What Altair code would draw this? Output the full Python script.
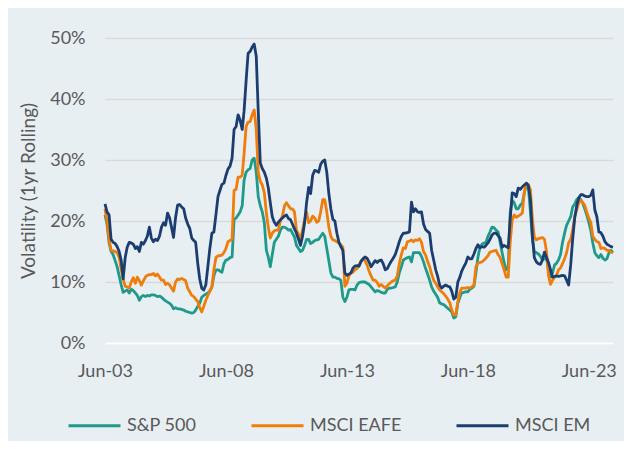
import altair as alt
import pandas as pd

# Monthly observations, Jun-2003 .. Jun-2024
months = pd.date_range("2003-06-01", periods=253, freq="MS").strftime("%Y-%m-%d").tolist()
series_names = ["S&P 500", "MSCI EAFE", "MSCI EM"]
series_colors = ["#1f9a8a", "#f07c0a", "#1b3d6f"]
tick_years = [2003, 2008, 2013, 2018, 2023]
y_ticks = [0, 10, 20, 30, 40, 50]

sp500 = [
    21, 19.5, 16.5, 15, 14.5, 13.5, 12.5, 11, 9.5, 8.3,
    8.5, 8.7, 8.2, 8.8, 8.6, 8.2, 7.8, 7, 7.6, 7.8,
    7.6, 7.8, 7.7, 7.9, 7.9, 7.8, 7.6, 7.7, 7.5, 7.2,
    6.9, 6.7, 6.5, 6.2, 5.6, 5.8, 5.6, 5.6, 5.5, 5.4,
    5.2, 5.1, 5, 4.9, 5, 5.4, 6, 6.5, 7.5, 7.8,
    8, 8.2, 8.5, 9.2, 11, 12, 12, 11.8, 11.6, 13,
    13.6, 13.7, 14, 14.1, 20.2, 20.5, 21, 21.5, 22.5, 26.7,
    28, 28.4, 28.6, 30, 30.3, 28, 24, 22.5, 21.5, 19.7,
    15.2, 14.1, 12.5, 14.5, 16.5, 17, 17.5, 18.5, 19, 19,
    18.8, 18.5, 18.6, 18, 17.4, 16, 15.5, 15, 15.2, 16,
    17, 17, 16.3, 16.5, 16.8, 16.9, 17, 17.5, 18, 17.5,
    15.5, 13.5, 11.5, 10.8, 10.8, 10.6, 10.5, 10.3, 7.5, 6.8,
    7.5, 8.7, 8.8, 8.8, 8.7, 9.5, 9.9, 10, 10, 10,
    9.8, 9.6, 9.2, 8.8, 8.4, 8.6, 8.5, 8.3, 8.2, 8.2,
    8.8, 9, 9, 9.1, 9.2, 10, 11.5, 12.5, 13.6, 13.8,
    14, 14.1, 13.3, 14.8, 14.8, 14.8, 14.8, 14.2, 13.3, 12.2,
    11.3, 10.3, 9.2, 8.5, 8, 7.5, 6.6, 6.4, 6.3, 6,
    5.7, 5.4, 5.1, 4.1, 4.3, 6.5, 7.5, 8.2, 8.3, 8.4,
    8.4, 8.8, 9, 9.3, 11.5, 14.1, 15.7, 16.2, 16.4, 16.5,
    17.5, 18.2, 19, 18.9, 18.5, 18.2, 16.5, 14.8, 13.2, 12,
    12.3, 21.3, 23.4, 23, 22, 22, 22.6, 22.9, 24.6, 25.9,
    25.5, 21.5, 17, 15, 14.8, 14.6, 14.2, 13.6, 13.8, 13.8,
    12, 10.8, 11.5, 12.8, 13.1, 13.6, 14.5, 16.5, 18, 19.3,
    20, 20.7, 22.3, 22.8, 23.5, 23.8, 23.5, 23, 22, 21,
    19.8, 18.5, 16.4, 14.8, 14.3, 14, 14.5, 13.9, 13.6, 13.8,
    14.8, 15.2, 14.8,
]

eafe = [
    22, 20, 17, 15.2, 15.1, 15, 14.8, 14, 12, 10.5,
    9.3, 9.2, 9, 10, 10.7, 9.8, 10.8, 10.2, 9.5, 10.2,
    10.8, 11.1, 11.2, 11.2, 11.4, 11, 11.3, 10.8, 10.3, 10.3,
    9.6, 9.8, 9.5, 9, 8.5, 10, 10.5, 10.4, 10.6, 10.4,
    10.2, 9, 8.4, 7.8, 7.6, 7.2, 6.8, 5.8, 5.1, 6,
    7, 7.8, 8.5, 9.2, 12, 14, 14.3, 14.3, 14.4, 14.8,
    15.5, 16.6, 16.8, 17, 25, 25.2, 27.2, 27.2, 27.5, 31,
    35.5, 36.2, 36.3, 37.4, 38.2, 35, 28, 26.5, 25.9, 24.6,
    21.3, 19, 17.2, 18, 18.4, 18.5, 18.5, 20, 20.8, 22.5,
    23, 22.5, 22, 22, 21.5, 18.5, 17.8, 16.9, 18.5, 20.2,
    21.5, 19.7, 20, 20.8, 20.5, 19.8, 20, 21.5, 23.5, 23.5,
    21.5, 19, 17.5, 16.9, 16.8, 16.6, 16.4, 16.1, 15.7, 9.3,
    9.8, 11, 11.5, 11.6, 12, 12.2, 12.8, 13.4, 13.9, 13.5,
    12.8, 11.8, 11, 10.3, 10.3, 9.9, 9.3, 9.6, 9.3, 9,
    9.4, 9.7, 10, 10.2, 10.3, 11, 13, 14.5, 15.6, 15.5,
    16.6, 16.7, 16.9, 16.6, 16.9, 16.8, 17.1, 16.5, 15, 14.4,
    13.4, 12.5, 11.3, 10.3, 9.8, 9.2, 8.7, 8.4, 8.1, 7.7,
    7.2, 6.6, 5.4, 4.6, 4.6, 6.8, 8.3, 9, 9, 9,
    9.1, 9, 9.2, 9.5, 12.5, 13.1, 13.2, 13.3, 13.6, 13.9,
    14.3, 14.9, 15, 15.1, 15.2, 14.5, 14, 13, 12, 10.8,
    10.8, 16.4, 20.2, 21, 20.6, 20.8, 21, 21.3, 24.8, 26.2,
    26, 25.1, 20.2, 17.4, 16.9, 17.1, 17.2, 17.3, 17, 15,
    11, 9.6, 10.3, 10.8, 11.1, 12, 12.3, 13, 13.8, 14.8,
    16.4, 17, 18.5, 20.8, 21.8, 23, 23.4, 23, 22.6, 21.5,
    20.5, 19.8, 17.5, 17, 16.6, 16.5, 15.5, 15.6, 15.5, 15.2,
    15.2, 14.9, 14.8,
]

em = [
    22.8, 21.5, 21, 17, 16.5, 16.3, 15.8, 15, 13.5, 10.5,
    14, 15.7, 16.5, 16.4, 16.2, 15.5, 15.8, 15, 16.5, 16.2,
    16.8, 17.5, 19, 17.2, 16.6, 17, 16.8, 17.5, 19, 19.7,
    19.3, 21.3, 20.5, 19, 17.3, 20.5, 22.6, 22.7, 22.3, 22,
    20.5, 19.5, 18.8, 17.2, 16.8, 16.5, 13.1, 10.5, 9, 8.7,
    9.5, 12.5, 15.5, 18, 18.2, 21, 24, 25, 26, 26.2,
    27.5, 28.5, 29, 30.3, 35, 35.5, 37.4, 36.5, 35, 38,
    43, 47.5, 47.8, 48.5, 49, 47, 38, 29.5, 28.6, 28,
    27, 25.5, 23, 20.7, 19.8, 19.3, 19.8, 20.2, 20.5, 20.8,
    21, 20.4, 20.2, 19.5, 18.7, 18, 17, 16, 17.5, 19.7,
    23, 25.5, 24.5, 27.5, 28.3, 28.2, 28, 29.3, 29.8, 30,
    28, 24.5, 22, 20.3, 20, 18, 16.5, 15.8, 15.2, 11.5,
    11.1, 11.3, 11.5, 12.3, 12.6, 12.7, 12.6, 13.4, 13.8, 14.1,
    13.9, 13.3, 12.5, 13, 13.5, 13.2, 13.5, 13.6, 13, 12,
    12.2, 12.8, 13.4, 13.9, 14.5, 15.5, 16.6, 17.5, 18, 18,
    18.1, 18.2, 23.1, 21.5, 22, 21.5, 21.4, 21.5, 19.5, 18.6,
    18.3, 18, 15.2, 13.6, 12, 11, 9.5, 9, 9.3, 9.5,
    9.3, 9.2, 8.5, 7.2, 7.5, 10, 10.8, 11.8, 12.5, 13.1,
    14.1, 13.8, 13.8, 14.6, 15.5, 16.1, 15.6, 15.8, 15.7, 16,
    16.4, 17, 17.7, 18, 18, 17.6, 17.2, 15.7, 16, 15.8,
    15.6, 20.2, 24.6, 24.5, 24, 25.4, 25.2, 25.6, 25.9, 26.2,
    25.8, 23.5, 17.4, 14, 13.3, 13, 12.9, 13.6, 14.9, 14,
    13.2, 12, 10.8, 10.9, 11, 10.9, 11, 11.1, 11, 10.3,
    9.5, 12.8, 17, 20.5, 22.5, 23.8, 24.3, 24.3, 24.1, 24,
    24, 24.2, 25.1, 21.8, 20.7, 18.2, 18.1, 17.5, 16.6, 16.2,
    16, 15.8, 15.7,
]

rows = []
for name, vals in zip(series_names, [sp500, eafe, em]):
    for d, v in zip(months, vals):
        rows.append({"date": d, "series": name, "vol": v})
df = pd.DataFrame(rows)

FONT = "Lato"
GREY = "#595959"


def dt(y):
    return alt.DateTime(year=y, month=6, date=1, utc=True)


chart = (
    alt.Chart(df)
    .mark_line(strokeWidth=2.8, strokeJoin="round")
    .encode(
        x=alt.X(
            "date:T",
            scale=alt.Scale(type="utc", domain=[dt(2003), dt(2024)], nice=False),
            axis=alt.Axis(
                values=[dt(y) for y in tick_years],
                format="%b-%y",
                title=None,
                grid=False,
                ticks=False,
                domain=True,
                domainColor="#ffffff",
                domainWidth=2,
                labelPadding=19,
                labelFlush=False,
                zindex=1,
            ),
        ),
        y=alt.Y(
            "vol:Q",
            scale=alt.Scale(domain=[0, 50], nice=False),
            axis=alt.Axis(
                values=y_ticks,
                labelExpr="datum.value + '%'",
                title="Volatility (1yr Rolling)",
                grid=True,
                gridColor="#d9d9d9",
                gridWidth=1.5,
                domain=False,
                ticks=False,
                labelPadding=20,
                titlePadding=11,
                titleFontSize=19,
            ),
        ),
        color=alt.Color(
            "series:N",
            sort=series_names,
            scale=alt.Scale(domain=series_names, range=series_colors),
            legend=alt.Legend(
                orient="none",
                legendX=-38,
                legendY=360,
                direction="horizontal",
                title=None,
                symbolType="stroke",
                symbolSize=2704,
                symbolStrokeWidth=3,
                labelFont=FONT,
                labelFontSize=18,
                labelColor=GREY,
                labelOffset=5,
                columnPadding=48,
            ),
        ),
    )
    .properties(
        width=508,
        height=305,
        background="#e8eff3",
        padding={"left": 97, "top": 30, "right": 11, "bottom": 98},
        autosize=alt.AutoSizeParams(type="none"),
    )
    .configure_view(stroke=None)
    .configure_axis(
        labelFont=FONT,
        titleFont=FONT,
        labelColor=GREY,
        titleColor=GREY,
        labelFontSize=18,
        titleFontSize=18,
        titleFontWeight="normal",
    )
)

chart.save("out.html", embed_options={"renderer": "svg", "actions": False})
